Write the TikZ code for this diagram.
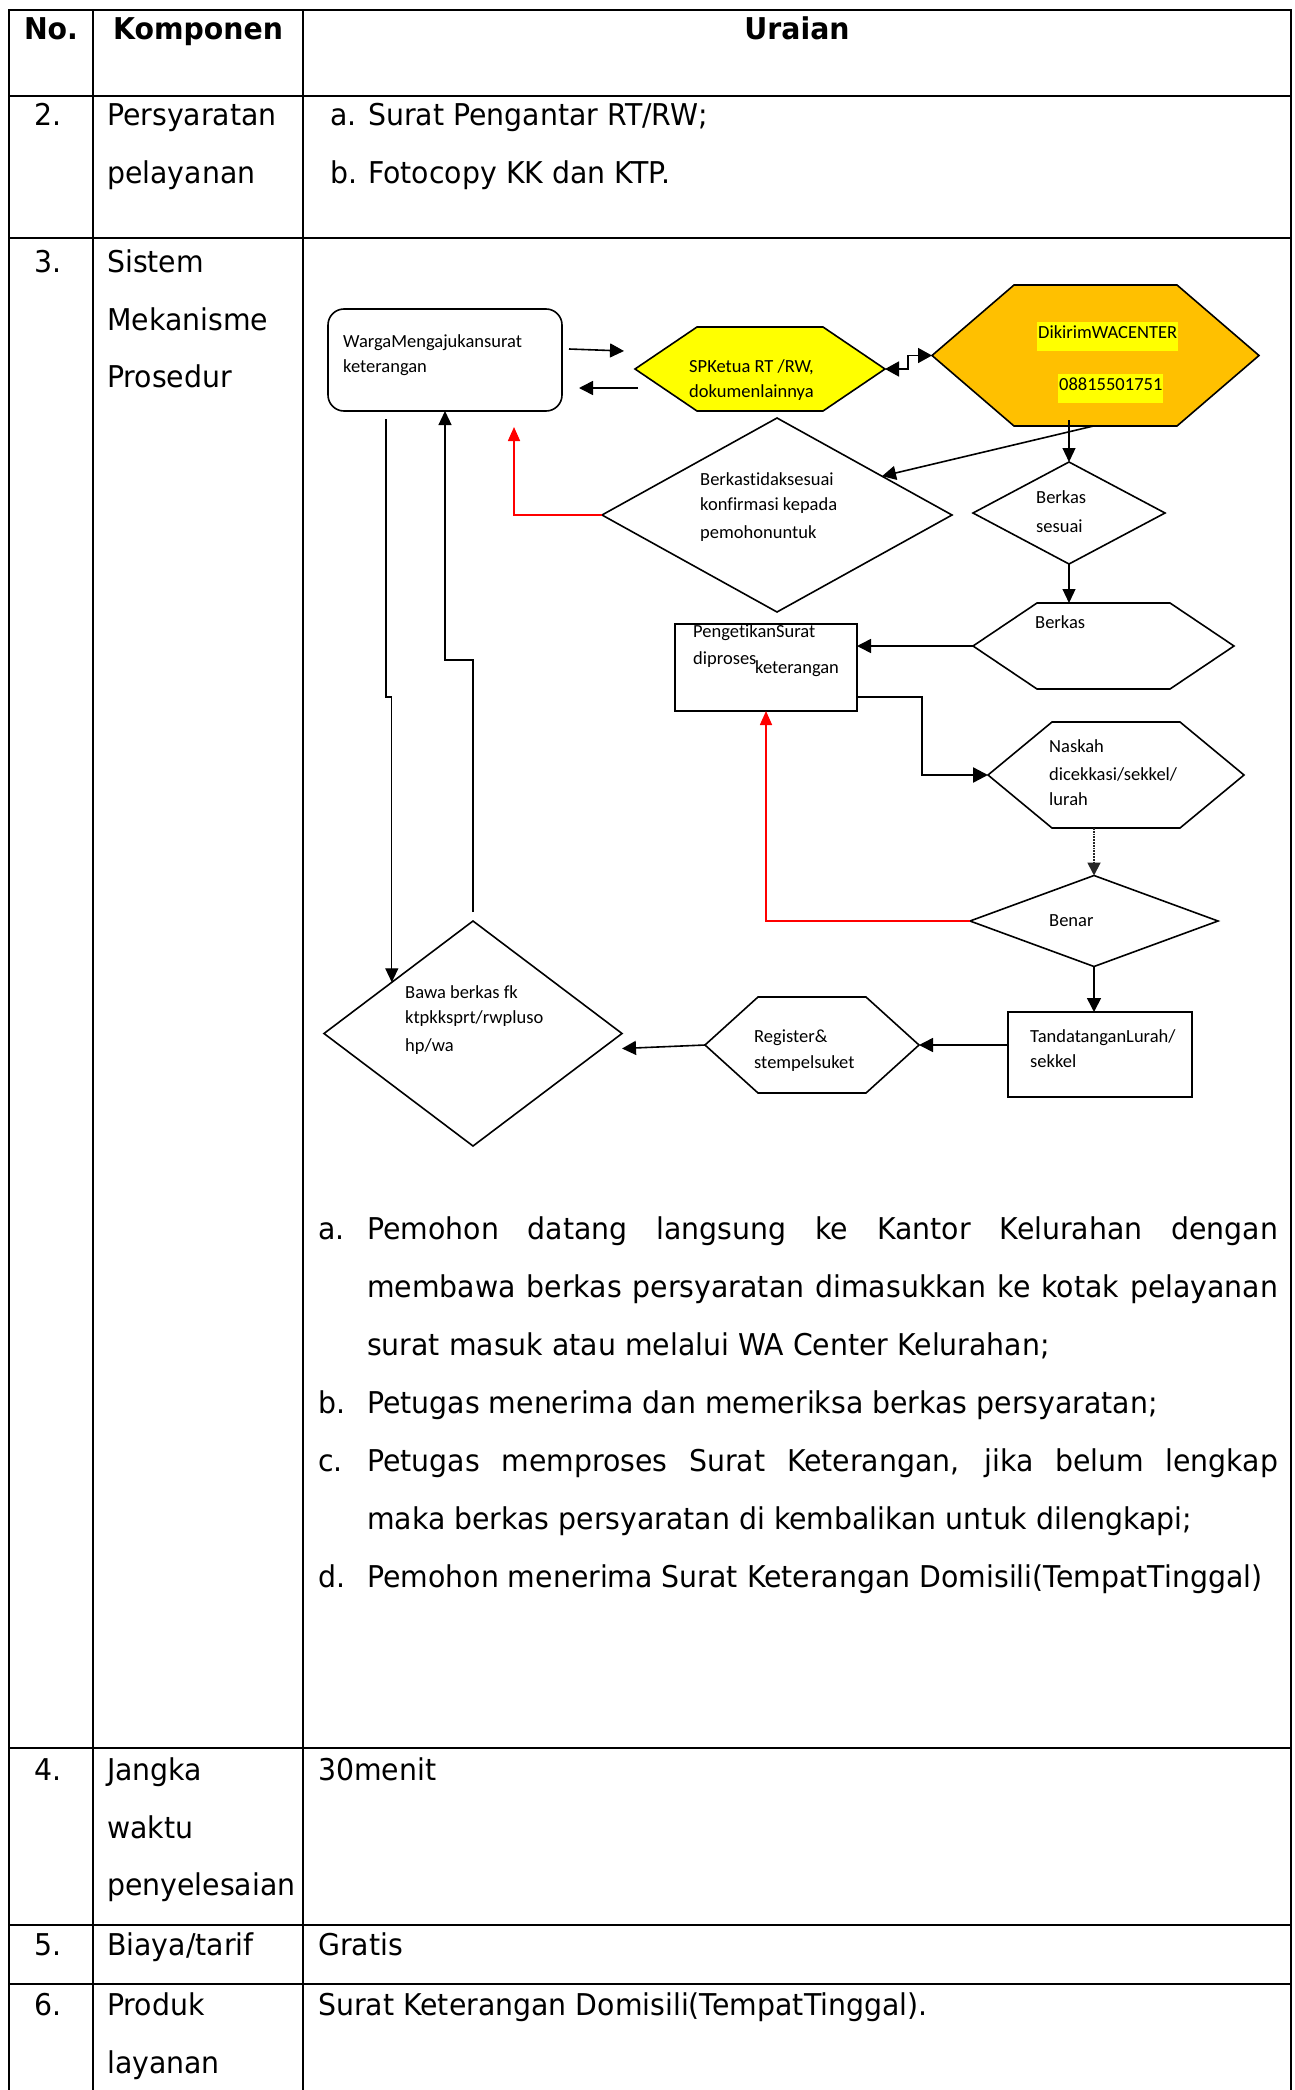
\documentclass[tikz,border=0pt]{standalone}
\usepackage{fontspec}
\setmainfont[FakeStretch=0.945]{DejaVu Sans}
\newfontfamily\dfont[Ligatures=NoCommon]{Carlito}
\usetikzlibrary{arrows.meta,calc}
\definecolor{hexyellow}{HTML}{FFFF00}
\definecolor{hexorange}{HTML}{FFC000}
\definecolor{linered}{HTML}{FF0000}
\newcommand\drawhex[3]{\draw[shapeline,#3] (#1.west) -- ($(#1.north west)+(#2,0)$) -- ($(#1.north east)+(-#2,0)$) -- (#1.east) -- ($(#1.south east)+(-#2,0)$) -- ($(#1.south west)+(#2,0)$) -- cycle;}
\newcommand\drawdiam[2]{\draw[shapeline,#2] (#1.west) -- (#1.north) -- (#1.east) -- (#1.south) -- cycle;}
\tikzset{
  tabline/.style={line width=2pt, black},
  shapeline/.style={line width=1.6pt, black, line join=miter},
  shapebox/.style={rectangle, draw=none, inner sep=0pt, outer sep=0pt},
  celltext/.style={font=\fontsize{30}{36}\selectfont, inner sep=0pt, anchor=base west},
  cellhead/.style={font=\bfseries\fontsize{30}{36}\selectfont, inner sep=0pt, anchor=base},
  diatext/.style={font=\dfont\fontsize{18.5}{22}\selectfont, inner sep=0pt, anchor=base west},
  hilite/.style={fill=hexyellow, inner xsep=1pt, inner ysep=0pt, text height=16pt, text depth=13pt},
  arr/.style={line width=1.6pt, -{Triangle[length=14pt,width=14pt]}},
  thinarr/.style={line width=1.2pt, -{Triangle[length=14pt,width=13pt]}},
  thickarr/.style={line width=2.4pt, -{Triangle[length=15pt,width=15pt]}},
  dotarr/.style={line width=1.8pt, black!85, densely dotted, -{Triangle[length=13pt,width=13pt]}},
  redarr/.style={line width=1.6pt, linered, -{Triangle[length=14pt,width=12pt]}},
}
\begin{document}
\begin{tikzpicture}[x=1pt,y=-1pt]
\useasboundingbox (0,0) rectangle (1294,2090);
\fill[white] (0,0) rectangle (1294,2090);

% ---------- table grid ----------
\draw[tabline] (9,2090) -- (9,10) -- (1291,10) -- (1291,2090);
\draw[tabline] (93,10) -- (93,2090);
\draw[tabline] (303,10) -- (303,2090);
\foreach \yy in {96,238,1748,1925,1984} \draw[tabline] (9,\yy) -- (1291,\yy);

% ---------- header ----------
\node[cellhead] (hNo) at (51,40) {No.};
\node[cellhead] (hKomp) at (198,40) {Komponen};
\node[cellhead] (hUr) at (797,40) {Uraian};

% ---------- row 2 ----------
\node[celltext] (n2) at (34,126) {2.};
\node[celltext] (k2a) at (107,126) {Persyaratan};
\node[celltext] (k2b) at (107,183) {pelayanan};
\node[celltext] (u2al) at (330,126) {a.};
\node[celltext] (u2a) at (368,126) {Surat Pengantar RT/RW;};
\node[celltext] (u2bl) at (330,183) {b.};
\node[celltext] (u2b) at (368,183) {Fotocopy KK dan KTP.};

% ---------- row 3 ----------
\node[celltext] (n3) at (34,272) {3.};
\node[celltext] (k3a) at (107,272) {Sistem};
\node[celltext] (k3b) at (107,330) {Mekanisme};
\node[celltext] (k3c) at (107,387) {Prosedur};

\node[celltext] (l3a) at (318,1239) {a.};
\node[celltext] (t3a1) at (367,1239) {\makebox[911pt][s]{Pemohon datang langsung ke Kantor Kelurahan dengan}};
\node[celltext] (t3a2) at (367,1297) {\makebox[911pt][s]{membawa berkas persyaratan dimasukkan ke kotak pelayanan}};
\node[celltext] (t3a3) at (367,1355) {surat masuk atau melalui WA Center Kelurahan;};
\node[celltext] (l3b) at (318,1413) {b.};
\node[celltext] (t3b1) at (367,1413) {Petugas menerima dan memeriksa berkas persyaratan;};
\node[celltext] (l3c) at (318,1471) {c.};
\node[celltext] (t3c1) at (367,1471) {\makebox[911pt][s]{Petugas memproses Surat Keterangan, jika belum lengkap}};
\node[celltext] (t3c2) at (367,1529) {maka berkas persyaratan di kembalikan untuk dilengkapi;};
\node[celltext] (l3d) at (318,1587) {d.};
\node[celltext] (t3d1) at (367,1587) {Pemohon menerima Surat Keterangan Domisili(TempatTinggal)};

% ---------- row 4-6 ----------
\node[celltext] (n4) at (34,1780) {4.};
\node[celltext] (k4a) at (107,1780) {Jangka};
\node[celltext] (k4b) at (107,1838) {waktu};
\node[celltext] (k4c) at (107,1895) {penyelesaian};
\node[celltext] (u4) at (318,1780) {30menit};
\node[celltext] (n5) at (34,1955) {5.};
\node[celltext] (k5) at (107,1955) {Biaya/tarif};
\node[celltext] (u5) at (318,1955) {Gratis};
\node[celltext] (n6) at (34,2015) {6.};
\node[celltext] (k6a) at (107,2015) {Produk};
\node[celltext] (k6b) at (107,2073) {layanan};
\node[celltext] (u6) at (318,2015) {Surat Keterangan Domisili(TempatTinggal).};

% ---------- flowchart shapes ----------
\node[shapebox, draw, shapeline, rounded corners=16pt, minimum width=234pt, minimum height=102pt] (W) at (445,360) {};
\node[shapebox, minimum width=250pt, minimum height=84pt] (Y) at (760,369) {};
\drawhex{Y}{62}{fill=hexyellow}
\node[shapebox, minimum width=327pt, minimum height=141pt] (O) at (1095.5,355.5) {};
\drawhex{O}{82}{fill=hexorange}
\node[shapebox, minimum width=350pt, minimum height=194pt] (D1) at (777,515) {};
\drawdiam{D1}{fill=white}
\node[shapebox, minimum width=192pt, minimum height=102pt] (D2) at (1069,513) {};
\drawdiam{D2}{fill=white}
\node[shapebox, minimum width=261pt, minimum height=86pt] (B) at (1103.5,646) {};
\drawhex{B}{64}{fill=white}
\node[shapebox, draw, shapeline, minimum width=182pt, minimum height=87pt] (P) at (766,667.5) {};
\node[shapebox, minimum width=256pt, minimum height=106pt] (N) at (1116,775) {};
\drawhex{N}{64}{fill=white}
\node[shapebox, minimum width=248pt, minimum height=91pt] (Bn) at (1094,921) {};
\drawdiam{Bn}{fill=white}
\node[shapebox, draw, shapeline, minimum width=184pt, minimum height=85pt] (T) at (1100,1054.5) {};
\node[shapebox, minimum width=214pt, minimum height=96pt] (R) at (812,1045) {};
\drawhex{R}{53}{fill=white}
\node[shapebox, minimum width=298pt, minimum height=225pt] (Bw) at (473,1033.5) {};
\drawdiam{Bw}{fill=white}

% ---------- flowchart texts ----------
\node[diatext] (w1) at (343,347) {WargaMengajukansurat};
\node[diatext] (w2) at (343,372) {keterangan};
\node[diatext] (y1) at (689,372) {SPKetua RT /RW,};
\node[diatext] (y2) at (689,397) {dokumenlainnya};
\node[diatext, hilite] (o1) at (1037,338) {DikirimWACENTER};
\node[diatext, hilite] (o2) at (1058,390) {08815501751};
\node[diatext] (d1a) at (700,485) {Berkastidaksesuai};
\node[diatext] (d1b) at (700,510) {konfirmasi kepada};
\node[diatext] (d1c) at (700,538) {pemohonuntuk};
\node[diatext] (d2a) at (1036,503) {Berkas};
\node[diatext] (d2b) at (1036,532) {sesuai};
\node[diatext] (b1) at (1035,628) {Berkas};
\node[diatext] (p1) at (693,637) {PengetikanSurat};
\node[diatext] (p2) at (693,664) {diproses};
\node[diatext] (p3) at (755,673) {keterangan};
\node[diatext] (n1) at (1049,752) {Naskah};
\node[diatext] (nn2) at (1049,780) {dicekkasi/sekkel/};
\node[diatext] (nn3) at (1049,805) {lurah};
\node[diatext] (bn1) at (1049,926) {Benar};
\node[diatext] (t1) at (1030,1042) {TandatanganLurah/};
\node[diatext] (t2) at (1030,1067) {sekkel};
\node[diatext] (r1t) at (754,1042) {Register\&};
\node[diatext] (r2t) at (754,1068) {stempelsuket};
\node[diatext] (bw1) at (405,998) {Bawa berkas fk};
\node[diatext] (bw2) at (405,1023) {ktpkksprt/rwpluso};
\node[diatext] (bw3) at (405,1051) {hp/wa};

% ---------- connectors ----------
\coordinate (a1s) at ($(W.east)+(7,-11)$);
\coordinate (a1e) at ($(Y.west)+(-11,-18)$);
\coordinate (a2s) at ($(Y.west)+(3,19)$);
\coordinate (a2e) at ($(W.east)+(17,28)$);
\draw[arr] (a1s) -- (a1e);
\draw[arr] (a2s) -- (a2e);
\draw[line width=1.6pt, {Triangle[length=14pt,width=15pt]}-{Triangle[length=14pt,width=15pt]}] (Y.east) -- ++(23,0) |- (O.west);
\draw[arr] ($(O.south)+(-2,0)$) -- ($(D1.north)!0.6!(D1.east)$);
\draw[thinarr] ($(D2.north |- O.south)+(0,-6)$) -- (D2.north);
\coordinate (redtop) at ($(W.south east)+(-48,16)$);
\draw[redarr] (D1.west) -| (redtop);
\draw[thinarr] (D2.south) -- (D2.south |- B.north);
\draw[arr] (B.west) -- (B.west -| P.east);
\draw[thickarr] ($(P.south east)+(0,-14)$) -- ++(65,0) |- (N.west);
\draw[dotarr] (N.south -| Bn.north) -- (Bn.north);
\draw[redarr] (Bn.west) -| (P.south);
\draw[arr] (Bn.south) -- (Bn.south |- T.north);
\draw[arr] (R.east -| T.west) -- (R.east);
\draw[arr] (R.west) -- ($(Bw.east)+(0,15)$);
\coordinate (bwin) at ($(Bw.west)!0.455!(Bw.north)$);
\draw[thinarr] ($(W.south west)+(58,8)$) -- ++(0,278) -| (bwin);
\draw[thinarr] ($(Bw.north)+(0,-9)$) -- ++(0,-252) -| (W.south);
\end{tikzpicture}
\end{document}
